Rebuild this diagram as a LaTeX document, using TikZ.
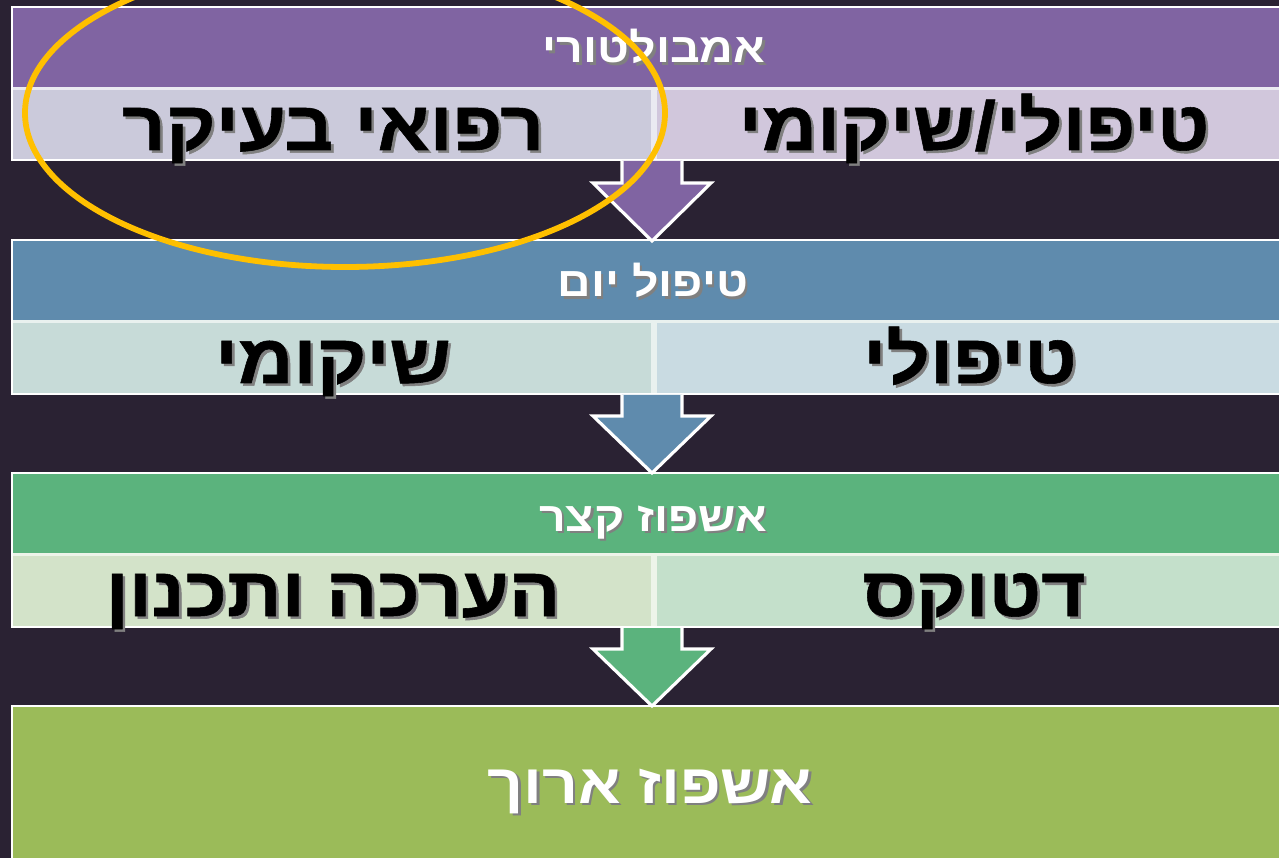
\documentclass[tikz,border=0pt]{standalone}
\usepackage{fontspec}
\TeXXeTstate=1
\newfontfamily\hebfont[Script=Hebrew,FakeStretch=1.13]{Liberation Sans}
\newfontfamily\hebheavy[Script=Hebrew,FakeStretch=1.1,FakeBold=0.8]{Liberation Sans}
\definecolor{bg}{HTML}{2A2233}
\definecolor{purp}{HTML}{8064A2}
\definecolor{blu}{HTML}{5F8BAD}
\definecolor{grn}{HTML}{5BB37D}
\definecolor{olv}{HTML}{9BBB59}
\definecolor{pl}{HTML}{CBCADB}
\definecolor{pr}{HTML}{D1C7DC}
\definecolor{bl}{HTML}{C7DBD8}
\definecolor{br}{HTML}{C9DBE2}
\definecolor{gl}{HTML}{D3E3C9}
\definecolor{gr}{HTML}{C4E0CB}
\definecolor{ring}{HTML}{FFC000}
\newcommand\shtxt[1]{\leavevmode\rlap{\kern1.5pt\raisebox{-1.5pt}{\color{black!50}\beginR#1\endR}}\beginR#1\endR}
\begin{document}
\begin{tikzpicture}[x=0.02cm,y=-0.02cm,
  bandbox/.style={draw=white,line width=1.7pt},
  flowarrow/.style={draw=white,line width=1.8pt,line join=miter},
  bigtxt/.style={font=\hebheavy\bfseries\fontsize{39.5}{41}\selectfont,text=black,inner sep=0pt,anchor=base},
  headtxt/.style={font=\hebfont\bfseries\fontsize{23.4}{25}\selectfont,text=white,inner sep=0pt,anchor=base},
  lasttxt/.style={headtxt,font=\hebfont\bfseries\fontsize{31.5}{33}\selectfont}]
\useasboundingbox (0,0) rectangle (1279,858);
\fill[bg] (0,0) rectangle (1279,858);
% band 1
\draw[bandbox,fill=purp] (12,7) rectangle (1285,160);
\fill[white!60!pl] (13,87) rectangle (1284,159);
\fill[pl] (13,90) rectangle (651,159);
\fill[pr] (657,90) rectangle (1284,159);
% band 2
\draw[bandbox,fill=blu] (12,240) rectangle (1285,394);
\fill[white!60!bl] (13,320) rectangle (1284,393);
\fill[bl] (13,323) rectangle (651,393);
\fill[br] (657,323) rectangle (1284,393);
% band 3
\draw[bandbox,fill=grn] (12,473) rectangle (1285,627);
\fill[white!60!gl] (13,553) rectangle (1284,626);
\fill[gl] (13,556) rectangle (651,626);
\fill[gr] (657,556) rectangle (1284,626);
% band 4
\draw[bandbox,fill=olv] (12,706) rectangle (1285,870);
% arrows
\draw[flowarrow,fill=purp] (622,161) -- (622,183) -- (593,183) -- (652,241) -- (711,183) -- (682,183) -- (682,161);
\draw[flowarrow,fill=blu] (622,395) -- (622,416) -- (593,416) -- (652,473) -- (711,416) -- (682,416) -- (682,395);
\draw[flowarrow,fill=grn] (622,628) -- (622,649) -- (593,649) -- (652,706) -- (711,649) -- (682,649) -- (682,628);
% header texts
\node[headtxt] (h1) at (654,63) {\shtxt{אמבולטורי}};
\node[headtxt] (h2) at (653,297) {\shtxt{טיפול יום}};
\node[headtxt] (h3) at (653,531) {\shtxt{אשפוז קצר}};
\node[lasttxt] (h4) at (650,803) {\shtxt{אשפוז ארוך}};
% big texts
\node[bigtxt] (a1) at (333,150) {\shtxt{רפואי בעיקר}};
\node[bigtxt] (b1) at (974,150) {\shtxt{טיפולי/שיקומי}};
\node[bigtxt] (a2) at (333,383) {\shtxt{שיקומי}};
\node[bigtxt] (b2) at (970,383) {\shtxt{טיפולי}};
\node[bigtxt] (a3) at (333,616) {\shtxt{הערכה ותכנון}};
\node[bigtxt] (b3) at (974,616) {\shtxt{דטוקס}};
% highlight ellipse
\draw[ring,line width=3.3pt] (345,113) ellipse [x radius=320,y radius=154];
\end{tikzpicture}
\end{document}
